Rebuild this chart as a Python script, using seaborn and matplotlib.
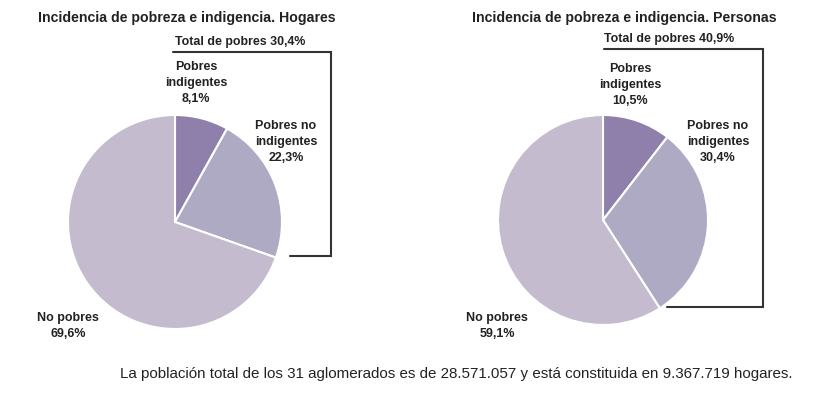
import matplotlib
matplotlib.use("Agg")
import matplotlib.pyplot as plt
import seaborn as sns

sns.set_theme(style="white")
plt.rcParams['font.family'] = ['Liberation Sans', 'DejaVu Sans']

# data
categories = ["Pobres\nindigentes", "Pobres no\nindigentes", "No pobres"]
hogares = [8.1, 22.3, 69.6]
personas = [10.5, 30.4, 59.1]
total_hogares = 30.4
total_personas = 40.9
titles = ["Incidencia de pobreza e indigencia. Hogares",
          "Incidencia de pobreza e indigencia. Personas"]
caption = ("La población total de los 31 aglomerados es de 28.571.057 "
           "y está constituida en 9.367.719 hogares.")
colors = ["#8e80aa", "#aeaac3", "#c4bcce"]

W, H = 822, 396
fig = plt.figure(figsize=(W / 100, H / 100), dpi=100)
fig.patch.set_facecolor("white")


def fmt(v):
    return f"{v:.1f}".replace(".", ",") + "%"


def px(x, y):
    return x / W, 1 - y / H


def draw_pie(cx, cy, r, values):
    ax = fig.add_axes([(cx - r) / W, 1 - (cy + r) / H, 2 * r / W, 2 * r / H])
    ax.pie(values, colors=colors, startangle=90, counterclock=False,
           wedgeprops=dict(edgecolor="white", linewidth=1.5))
    ax.set_xlim(-1, 1)
    ax.set_ylim(-1, 1)
    ax.set_aspect("auto")
    ax.axis("off")


# overlay axes in pixel coordinates for brackets
ov = fig.add_axes([0, 0, 1, 1])
ov.set_xlim(0, W)
ov.set_ylim(H, 0)
ov.axis("off")

panels = [
    dict(cx=175, cy=222, r=107, values=hogares, total=total_hogares,
         title_x=38, title_y=18, tot_x=175, tot_y=42,
         br=[(173, 52), (331, 52), (331, 256), (290, 256)],
         lab=[(196, 83), (286, 142), (68, 326)]),
    dict(cx=603, cy=220, r=105, values=personas, total=total_personas,
         title_x=472, title_y=18, tot_x=604, tot_y=39,
         br=[(604, 49), (763, 49), (763, 307), (667, 307)],
         lab=[(630, 85), (718, 142), (497, 326)]),
]

for i, p in enumerate(panels):
    draw_pie(p["cx"], p["cy"], p["r"], p["values"])
    x, y = px(p["title_x"], p["title_y"])
    fig.text(x, y, titles[i], fontsize=10.2, fontweight="bold",
             color="#222222", ha="left", va="center")
    x, y = px(p["tot_x"], p["tot_y"])
    fig.text(x, y, "Total de pobres " + fmt(p["total"]), fontsize=8.9,
             fontweight="bold", color="#222222", ha="left", va="center")
    xs = [q[0] for q in p["br"]]
    ys = [q[1] for q in p["br"]]
    ov.plot(xs, ys, color="#333333", linewidth=1.5, solid_joinstyle="miter")
    for (lx, ly), cat, v in zip(p["lab"], categories, p["values"]):
        x, y = px(lx, ly)
        txt = cat + "\n" + fmt(v)
        fig.text(x, y, txt, fontsize=9, fontweight="bold", color="#222222",
                 ha="center", va="center", multialignment="center",
                 linespacing=1.4)

x, y = px(456, 374)
fig.text(x, y, caption, fontsize=10.9, color="#222222", ha="center", va="center")

fig.savefig("out.png", dpi=100, facecolor="white")
